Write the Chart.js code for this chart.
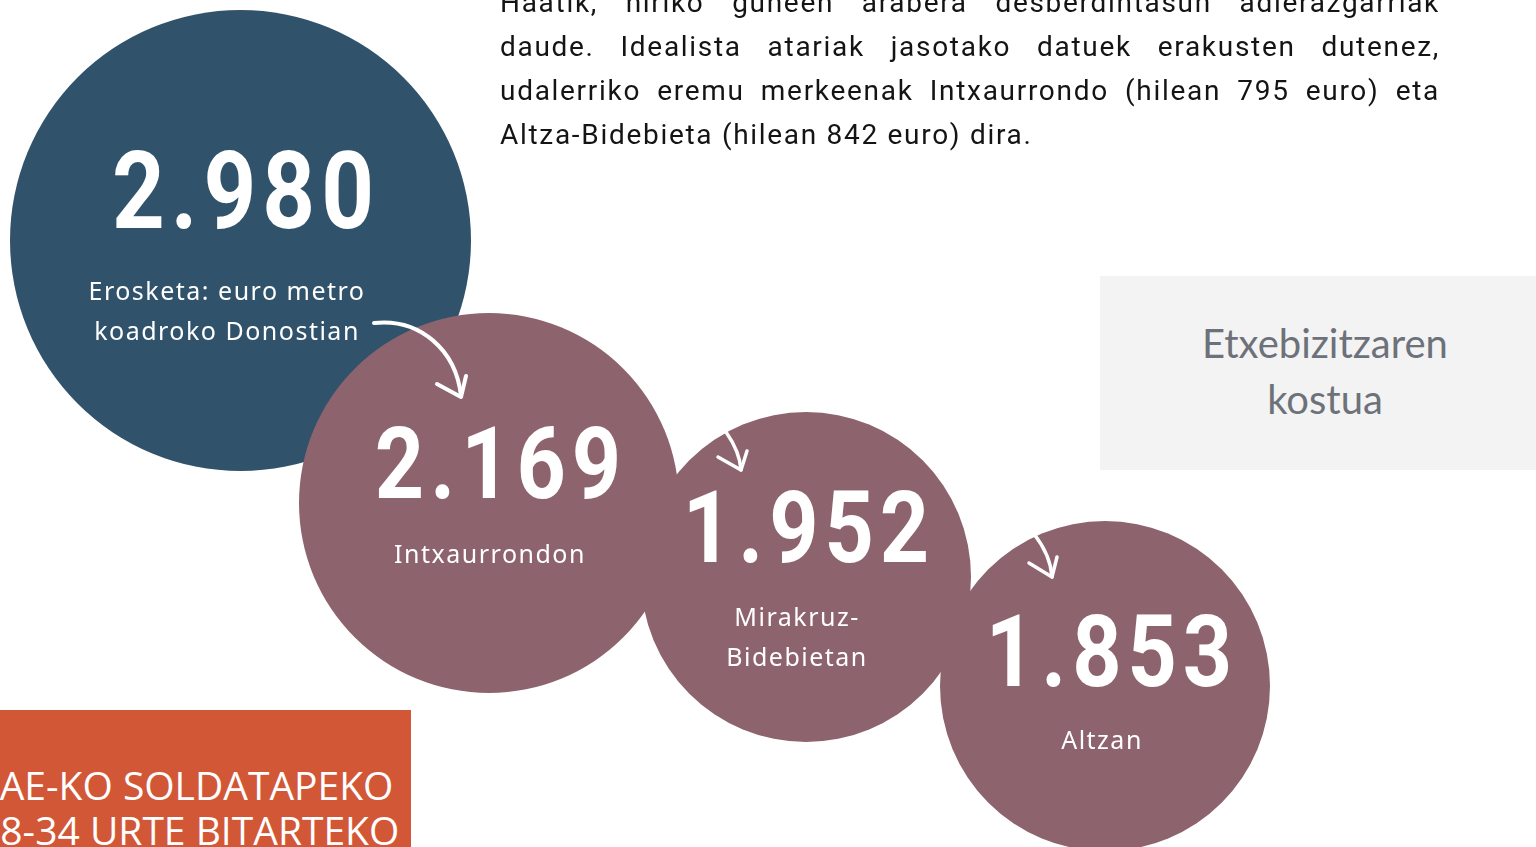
<!DOCTYPE html>
<html lang="eu">
<head>
<meta charset="UTF-8">
<title>Etxebizitzaren kostua</title>
<script src="https://cdn.jsdelivr.net/npm/chart.js@4.4.0/dist/chart.umd.min.js"></script>
<style>
    html, body { margin: 0; padding: 0; background: #fff; overflow: hidden; }
    #wrap { position: relative; width: 1536px; height: 847px; overflow: hidden; }
    #grafica { position: absolute; left: 0; top: 0; }
    .testua {
        position: absolute; left: 500px; top: -19px; width: 940px;
        font-family: Roboto, sans-serif; font-size: 28px; letter-spacing: 1.7px; line-height: 44px; color: #141414;
    }
    .testua span { display: block; text-align: justify; text-align-last: justify; }
    .testua span.azkena { text-align-last: left; }
    .kutxa {
        position: absolute; left: 1100px; top: 276px; width: 436px; height: 194px;
        background: #f3f3f3; color: #6d717a; font-family: Lato, sans-serif; font-size: 40px;
        line-height: 56px; text-align: center; box-sizing: border-box; padding-top: 39px; padding-left: 14px;
    }
    .laranja {
        position: absolute; left: 0; top: 710px; width: 411px; height: 160px;
        background: #d25736; overflow: hidden;
    }
    .laranja div {
        position: absolute; left: -22px; top: 52px; white-space: nowrap;
        font-family: "Open Sans", sans-serif; font-size: 39px; line-height: 45px; color: #fff;
    }
</style>
</head>
<body>
<div id="wrap">
    <canvas id="grafica" width="1536" height="847"></canvas>
    <div class="testua">
        <span>Haatik, hiriko guneen arabera desberdintasun adierazgarriak</span>
        <span>daude. Idealista atariak jasotako datuek erakusten dutenez,</span>
        <span>udalerriko eremu merkeenak Intxaurrondo (hilean 795 euro) eta</span>
        <span class="azkena">Altza-Bidebieta (hilean 842 euro) dira.</span>
    </div>
    <div class="kutxa">Etxebizitzaren<br>kostua</div>
    <div class="laranja"><div>EAE-KO SOLDATAPEKO<br>18-34 URTE BITARTEKO</div></div>
</div>
<script>
// Datuak: euro metro koadroko
const etiketak = [
    ["Erosketa: euro metro", "koadroko Donostian"],
    ["Intxaurrondon"],
    ["Mirakruz-", "Bidebietan"],
    ["Altzan"]
];
const prezioak = [2980, 2169, 1952, 1853];

// Diseinua (zirkuluen kokapena eta testuen lekua)
const zirkuluak = [
    { x: 240.5, y: 240.5, r: 230.5, numX: 243, numY: 228, tam: 107, labX: 226, labY: 300 },
    { x: 489,   y: 503,   r: 190,   numX: 498, numY: 498, tam: 100, labX: 489, labY: 563 },
    { x: 806,   y: 577,   r: 165,   numX: 806, numY: 562, tam: 100, labX: 796, labY: 626 },
    { x: 1105,  y: 686,   r: 165,   numX: 1109, numY: 686, tam: 100, labX: 1101, labY: 749 }
];
const koloreak = ['#30536b', '#8d636e', '#8d636e', '#8d636e'];

// Geziak (ardatzeko unitateetan)
const geziak = [
    { p: [[374, 323], [420, 318], [456, 350], [461, 396]], burua: [[437, 384], [461, 397], [466, 376]] },
    { p: [[726, 432], [733, 442], [740, 455], [741, 470]], burua: [[718, 457], [741, 470], [747, 451]] },
    { p: [[1034, 534], [1045, 548], [1051, 562], [1052, 577]], burua: [[1029, 563], [1052, 577], [1057, 557]] }
];

const formatua = v => v.toLocaleString('de-DE');

const testuak = {
    id: 'testuak',
    afterDatasetsDraw(chart) {
        const ctx = chart.ctx;
        const sx = chart.scales.x, sy = chart.scales.y;
        const px = v => sx.getPixelForValue(v), py = v => sy.getPixelForValue(v);

        // geziak
        ctx.save();
        ctx.strokeStyle = '#fff';
        ctx.lineCap = 'round';
        ctx.lineJoin = 'round';
        geziak.forEach((g, i) => {
            ctx.lineWidth = i === 0 ? 4 : 3.5;
            ctx.beginPath();
            ctx.moveTo(px(g.p[0][0]), py(g.p[0][1]));
            ctx.bezierCurveTo(px(g.p[1][0]), py(g.p[1][1]), px(g.p[2][0]), py(g.p[2][1]), px(g.p[3][0]), py(g.p[3][1]));
            ctx.stroke();
            ctx.beginPath();
            ctx.moveTo(px(g.burua[0][0]), py(g.burua[0][1]));
            ctx.lineTo(px(g.burua[1][0]), py(g.burua[1][1]));
            ctx.lineTo(px(g.burua[2][0]), py(g.burua[2][1]));
            ctx.stroke();
        });
        ctx.restore();

        // zenbakiak eta etiketak
        ctx.save();
        ctx.fillStyle = '#fff';
        ctx.textAlign = 'center';
        ctx.textBaseline = 'alphabetic';
        prezioak.forEach((v, i) => {
            const z = zirkuluak[i];
            ctx.save();
            ctx.translate(px(z.numX), py(z.numY));
            ctx.scale(0.86, 1);
            ctx.font = 'bold ' + z.tam + 'px Roboto';
            ctx.letterSpacing = '7px';
            ctx.fillText(formatua(v), 3.5, 0);
            ctx.restore();

            ctx.font = '25px "Noto Sans"';
            ctx.letterSpacing = '1.5px';
            etiketak[i].forEach((lerroa, j) => {
                ctx.fillText(lerroa, px(z.labX) + 1, py(z.labY) + j * 40);
            });
        });
        ctx.restore();
    }
};

new Chart(document.getElementById('grafica'), {
    type: 'bubble',
    data: {
        datasets: [{
            data: prezioak.map((v, i) => ({ x: zirkuluak[i].x, y: zirkuluak[i].y, r: zirkuluak[i].r, v: v })),
            backgroundColor: koloreak,
            borderWidth: 0,
            hoverRadius: 0
        }]
    },
    options: {
        responsive: false,
        animation: false,
        events: [],
        layout: { padding: 0, autoPadding: false },
        scales: {
            x: { type: 'linear', min: 0, max: 1536, display: false },
            y: { type: 'linear', min: 0, max: 847, reverse: true, display: false }
        },
        plugins: { legend: { display: false }, tooltip: { enabled: false } }
    },
    plugins: [testuak]
});
</script>
</body>
</html>
